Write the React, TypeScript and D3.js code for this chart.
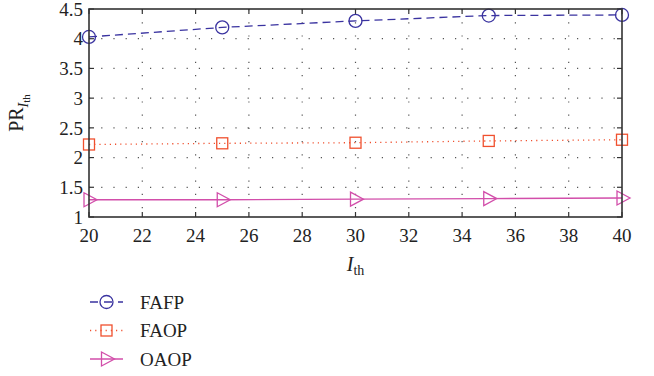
import React from "react";
import * as d3 from "d3";

// thresholds on the x axis
const thresholds = [20, 25, 30, 35, 40];
const fafp = [4.03, 4.19, 4.3, 4.39, 4.4];
const faop = [2.22, 2.24, 2.25, 2.28, 2.3];
const oaop = [1.29, 1.29, 1.3, 1.31, 1.32];

const xTicks = [20, 22, 24, 26, 28, 30, 32, 34, 36, 38, 40];
const yTicks = [1, 1.5, 2, 2.5, 3, 3.5, 4, 4.5];
const seriesNames = ["FAFP", "FAOP", "OAOP"];

const W = 654;
const H = 376;
const margin = { top: 9, right: 32, bottom: 159, left: 89 };
const font = "Liberation Serif";

const App = () => {
    const width = W - margin.left - margin.right;
    const height = H - margin.top - margin.bottom;

    const x = d3.scaleLinear().domain([20, 40]).range([0, width]);
    const y = d3.scaleLinear().domain([1, 4.5]).range([height, 0]);

    const series = [
        { name: seriesNames[0], values: fafp, color: "#3a33a0", dash: "8,5", marker: "circle" },
        { name: seriesNames[1], values: faop, color: "#f0502e", dash: "1.2,4", marker: "square" },
        { name: seriesNames[2], values: oaop, color: "#d24eaa", dash: null, marker: "tri" },
    ];

    const line = d3.line<number>()
        .x((d, i) => x(thresholds[i]))
        .y((d) => y(d));

    const marker = (kind: string, cx: number, cy: number, color: string, key?: any) => {
        if (kind === "circle") {
            return <circle key={key} cx={cx} cy={cy} r={6.5} fill="none" stroke={color} strokeWidth={1.3} />;
        }
        if (kind === "square") {
            return <rect key={key} x={cx - 5.5} y={cy - 5.5} width={11} height={11} fill="none" stroke={color} strokeWidth={1.3} />;
        }
        const pts = [[cx - 5, cy - 7], [cx + 8, cy], [cx - 5, cy + 7]];
        return <polygon key={key} points={pts.map((p) => p.join(",")).join(" ")} fill="none" stroke={color} strokeWidth={1.3} />;
    };

    const axisColor = "#333";

    return (
        <svg width={W} height={H} style={{ position: "absolute", left: 0, top: 0, background: "#fff", fontFamily: font }}>
            <g transform={`translate(${margin.left},${margin.top})`}>
                {/* dotted grid */}
                {xTicks.slice(1, -1).map((t) => (
                    <line key={"gx" + t} x1={x(t)} x2={x(t)} y1={0} y2={height}
                        stroke="#555" strokeWidth={1.2} strokeDasharray="1.2,12" />
                ))}
                {yTicks.slice(1, -1).map((t) => (
                    <line key={"gy" + t} x1={0} x2={width} y1={y(t)} y2={y(t)}
                        stroke="#555" strokeWidth={1.2} strokeDasharray="1.2,11" />
                ))}

                {/* ticks on all four sides, pointing in */}
                {xTicks.map((t) => (
                    <g key={"tx" + t}>
                        <line x1={x(t)} x2={x(t)} y1={height} y2={height - 5} stroke={axisColor} strokeWidth={1.2} />
                        <line x1={x(t)} x2={x(t)} y1={0} y2={5} stroke={axisColor} strokeWidth={1.2} />
                        <text x={x(t)} y={height + 25} textAnchor="middle" fontSize={19} fill="#222">{t}</text>
                    </g>
                ))}
                {yTicks.map((t) => (
                    <g key={"ty" + t}>
                        <line x1={0} x2={5} y1={y(t)} y2={y(t)} stroke={axisColor} strokeWidth={1.2} />
                        <line x1={width} x2={width - 5} y1={y(t)} y2={y(t)} stroke={axisColor} strokeWidth={1.2} />
                        <text x={-6} y={y(t)} dy="0.35em" textAnchor="end" fontSize={19} fill="#222">{t}</text>
                    </g>
                ))}

                {/* series */}
                {series.map((s) => (
                    <g key={s.name}>
                        <path d={line(s.values) || ""} fill="none" stroke={s.color} strokeWidth={1.3}
                            strokeDasharray={s.dash || undefined} />
                        {s.values.map((v, i) => marker(s.marker, x(thresholds[i]), y(v), s.color, i))}
                    </g>
                ))}

                {/* frame */}
                <rect x={0} y={0} width={width} height={height} fill="none" stroke={axisColor} strokeWidth={1.6} />

                {/* axis labels */}
                <text x={width / 2} y={height + 54} textAnchor="middle" fontSize={20} fill="#222">
                    <tspan fontStyle="italic">I</tspan>
                    <tspan fontSize={14} dy={4}>th</tspan>
                </text>
                <text transform={`translate(${-66},${height / 2}) rotate(-90)`} textAnchor="middle" fontSize={20} fill="#222">
                    PR
                    <tspan fontStyle="italic" fontSize={14} dy={5}>I</tspan>
                    <tspan fontSize={11} dy={2}>th</tspan>
                </text>
            </g>

            {/* legend */}
            <g transform="translate(90,302)">
                {series.map((s, i) => (
                    <g key={s.name} transform={`translate(0,${i * 28.5})`}>
                        <line x1={0} x2={33} y1={0} y2={0} stroke={s.color} strokeWidth={1.3}
                            strokeDasharray={s.dash ? (s.marker === "circle" ? "8,6" : "1.2,4") : undefined} />
                        {marker(s.marker, 16.5, 0, s.color)}
                        <text x={50} y={0} dy="0.35em" fontSize={19} fill="#222">{s.name}</text>
                    </g>
                ))}
            </g>
        </svg>
    );
};

export default App;
